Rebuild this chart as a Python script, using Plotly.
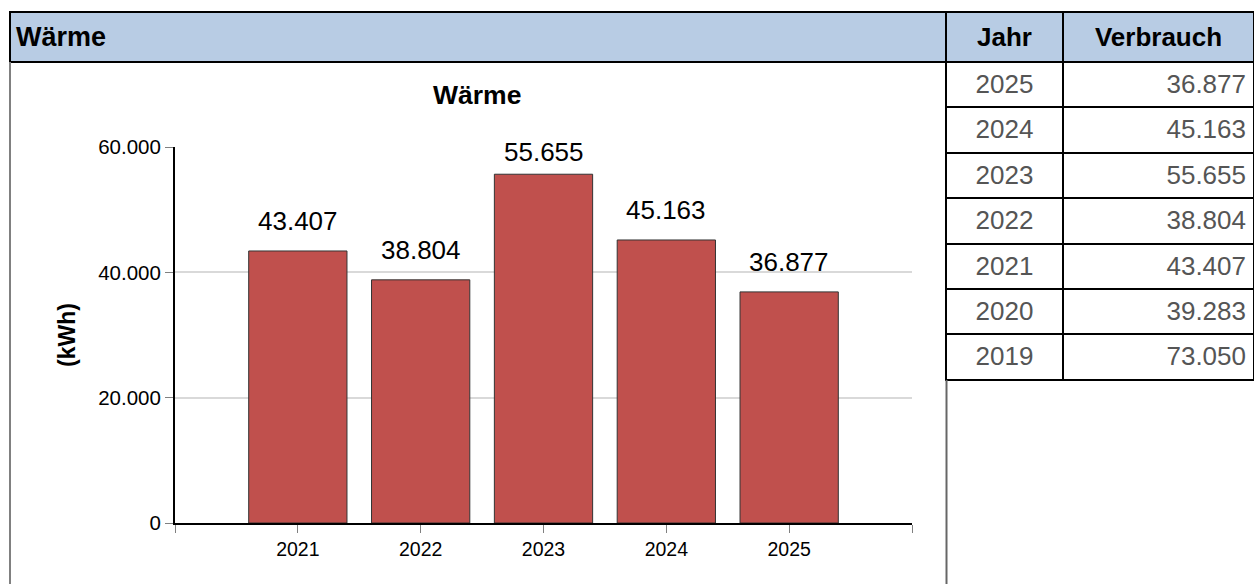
import plotly.graph_objects as go

# ---------------- data ----------------
chart_years = ["2021", "2022", "2023", "2024", "2025"]
chart_values = [43407, 38804, 55655, 45163, 36877]

table_years = ["2025", "2024", "2023", "2022", "2021", "2020", "2019"]
table_values = [36877, 45163, 55655, 38804, 43407, 39283, 73050]
table_header = ["Jahr", "Verbrauch"]

title_text = "Wärme"
y_title = "(kWh)"
y_ticks = [0, 20000, 40000, 60000]

# ---------------- layout constants ----------------
W, H = 1254, 584
FONT = "Liberation Sans, Arial, sans-serif"


def px_x(x):
    return x / W


def px_y(y):
    return 1 - y / H


def fmt(v):
    return f"{v:,}".replace(",", ".")


plot_left, plot_right = 175, 912
plot_top, plot_bottom = 147, 523
y_max = 60000

fig = go.Figure()

xs = list(range(len(chart_years)))
fig.add_trace(go.Bar(
    x=xs, y=chart_values, width=0.8,
    marker=dict(color="#c0504d", line=dict(color="#333333", width=1)),
    hoverinfo="skip", showlegend=False,
))

# data labels (kept inside plot area like the original)
for x, v in zip(xs, chart_values):
    bar_top_px = plot_bottom - v * (plot_bottom - plot_top) / y_max
    shift = min(13, bar_top_px - 169)
    fig.add_annotation(x=x, y=v, xref="x", yref="y", text=fmt(v),
                       showarrow=False, yanchor="bottom", yshift=shift,
                       font=dict(size=26, color="black", family=FONT))

fig.update_xaxes(
    domain=[px_x(plot_left), px_x(plot_right)],
    range=[-1, len(chart_years)],
    tickmode="array",
    tickvals=[-1] + xs + [len(chart_years)],
    ticktext=[""] + chart_years + [""],
    ticks="outside", ticklen=8, tickcolor="#808080", tickwidth=1,
    showline=True, linecolor="black", linewidth=2,
    showgrid=False, zeroline=False, automargin=False,
    tickfont=dict(size=19.5, color="black", family=FONT),
    fixedrange=True,
)
fig.update_yaxes(
    domain=[px_y(plot_bottom), px_y(plot_top)],
    range=[0, y_max],
    tickmode="array", tickvals=y_ticks,
    tickformat=",.0f",
    ticks="outside", ticklen=8, tickcolor="#808080", tickwidth=1,
    showline=True, linecolor="black", linewidth=2,
    showgrid=True, gridcolor="#d9d9d9", gridwidth=2,
    zeroline=False, automargin=False,
    tickfont=dict(size=20.5, color="black", family=FONT),
    fixedrange=True,
)

n_rows = len(table_years)
# table: grid / fills
fig.add_trace(go.Table(
    domain=dict(x=[px_x(946), 1], y=[0, px_y(12)]),
    columnwidth=[117, 191],
    header=dict(values=["", ""],
                fill_color="#b8cce4", line=dict(color="black", width=2),
                height=50),
    cells=dict(values=[[""] * n_rows, [""] * n_rows],
               fill_color="white", line=dict(color="black", width=2),
               height=45.4),
))
# table: text layer (vertically centred in the rows)
fig.add_trace(go.Table(
    domain=dict(x=[px_x(946), 1], y=[0, px_y(14)]),
    columnwidth=[117, 191],
    header=dict(values=[f"<b>{h}</b>" for h in table_header],
                fill_color="rgba(0,0,0,0)", line=dict(color="rgba(0,0,0,0)", width=0),
                align="center", height=51.5,
                font=dict(size=26, color="black", family=FONT)),
    cells=dict(values=[table_years, [fmt(v) for v in table_values]],
               fill_color="rgba(0,0,0,0)", line=dict(color="rgba(0,0,0,0)", width=0),
               align=["center", "right"], height=45.4,
               font=dict(size=26, color="#555555", family=FONT)),
))

# panel header bar & frame
fig.add_shape(type="rect", xref="paper", yref="paper",
              x0=px_x(10), x1=px_x(946), y0=px_y(62), y1=px_y(12),
              fillcolor="#b8cce4", line=dict(color="black", width=2), layer="below")
fig.add_shape(type="line", xref="paper", yref="paper",
              x0=px_x(10), x1=px_x(10), y0=px_y(62), y1=0,
              line=dict(color="#808080", width=2))
fig.add_shape(type="line", xref="paper", yref="paper",
              x0=px_x(946.5), x1=px_x(946.5), y0=px_y(380), y1=0,
              line=dict(color="#666666", width=2))

fig.add_annotation(x=px_x(13.5), y=px_y(37), xref="paper", yref="paper",
                   text=f"<b>{title_text}</b>", showarrow=False,
                   xanchor="left", yanchor="middle",
                   font=dict(size=27, color="black", family=FONT))
fig.add_annotation(x=px_x(477), y=px_y(95), xref="paper", yref="paper",
                   text=f"<b>{title_text}</b>", showarrow=False,
                   xanchor="center", yanchor="middle",
                   font=dict(size=26.5, color="black", family=FONT))
fig.add_annotation(x=px_x(67), y=px_y(335), xref="paper", yref="paper",
                   text=f"<b>{y_title}</b>", showarrow=False, textangle=-90,
                   xanchor="center", yanchor="middle",
                   font=dict(size=23, color="black", family=FONT))

fig.update_layout(
    width=W, height=H,
    margin=dict(l=0, r=0, t=0, b=0, pad=0, autoexpand=False),
    paper_bgcolor="white", plot_bgcolor="white",
    separators=",.",
    font=dict(family=FONT),
    showlegend=False,
)

fig.write_html("out.html",
               config={"displayModeBar": False, "staticPlot": True},
               post_script="document.body.style.margin='0';document.body.style.padding='0';")
